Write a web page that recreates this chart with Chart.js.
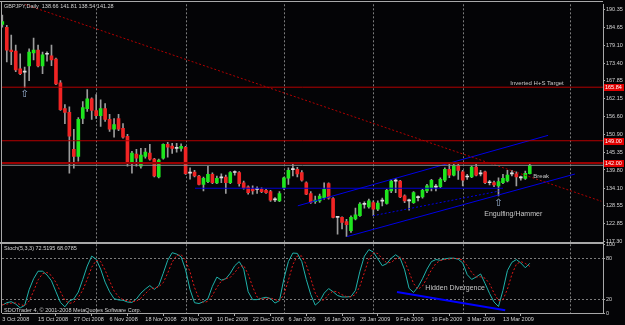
<!DOCTYPE html>
<html>
<head>
<meta charset="utf-8">
<script src="https://cdn.jsdelivr.net/npm/chart.js@4.4.0/dist/chart.umd.min.js"></script>
<style>
  html, body { margin: 0; padding: 0; background: #040406; }
  #wrap { width: 625px; height: 325px; }
</style>
</head>
<body>
<div id="wrap"><canvas id="chart" width="625" height="325"></canvas></div>
<script>
// GBPJPY daily candles, 3 Oct 2008 .. 23 Mar 2009
const barOpen = [185.6,184.7,177.5,177.2,171.6,170.6,172.5,176.6,177.5,172.5,
  176.2,175.7,174.7,167.2,159.1,157.9,146.3,144.1,156.0,159.1,
  162.2,158.5,156.9,159.1,155.7,152.6,156.0,152.9,150.4,141.9,
  144.8,141.0,144.1,145.1,143.2,137.6,143.5,147.9,147.3,146.6,
  146.55,146.95,138.8,139.15,137.9,135.3,136.1,138.4,135.7,137.3,
  137.6,135.8,139.0,139.0,135.8,134.5,133.9,133.7,133.7,133.4,
  133.0,130.5,130.1,134.25,137.2,139.9,140.0,139.0,135.8,132.4,
  129.8,130.1,131.1,135.5,130.8,124.9,124.9,123.6,120.73,124.38,
  125.41,129.0,128.22,129.56,127.5,130.0,129.25,133.22,136.3,136.34,
  131.66,130.1,129.56,131.1,131.35,133.22,134.25,134.4,134.56,136.56,
  139.99,138.21,141.24,139.24,137.6,137.59,140.71,138.6,139.24,135.8,
  135.81,134.78,135.81,136.34,138.6,138.62,137.3,137.18,138.66];
const barHigh = [188.5,185.3,182.2,179.1,176.3,172.2,177.9,181.3,179.1,176.9,
  177.0,179.1,175.0,167.9,160.4,159.7,152.6,156.3,161.3,165.1,
  162.5,163.5,161.9,160.7,157.3,156.0,157.3,154.4,151.0,145.7,
  146.3,146.6,146.6,147.9,143.5,143.2,148.0,148.5,148.2,148.2,
  148.0,147.27,140.5,139.7,138.1,137.6,141.0,138.9,137.9,138.6,
  138.2,139.3,139.5,139.3,136.3,134.8,134.8,134.5,134.2,133.7,
  133.4,131.1,133.0,137.6,140.5,141.7,140.6,139.6,136.1,133.0,
  131.6,132.2,135.8,135.8,131.1,125.1,125.1,124.3,125.41,127.81,
  129.56,129.78,130.63,130.1,130.1,130.94,133.75,136.87,137.18,136.56,
  131.97,130.63,133.0,131.66,133.75,135.31,136.87,135.31,137.37,140.49,
  141.55,141.74,141.74,139.68,138.43,141.02,141.74,139.68,139.46,136.56,
  136.34,137.37,138.43,139.68,139.68,139.24,137.9,139.46,141.81];
const barLow = [184.7,173.8,172.9,170.7,169.8,165.7,167.9,174.4,172.2,170.1,
  174.0,172.6,166.6,158.5,154.4,138.8,140.4,142.6,154.4,158.2,
  155.7,156.0,153.5,155.1,151.9,150.1,152.2,149.8,141.0,138.8,
  141.0,140.4,143.5,142.9,137.6,137.3,143.2,143.8,145.0,145.4,
  145.7,138.4,136.9,137.6,135.1,133.2,135.8,135.5,135.5,135.8,
  132.4,135.5,138.2,134.7,133.8,132.2,132.2,132.4,132.7,132.4,
  129.9,129.8,129.8,133.7,135.3,137.9,137.6,136.3,132.0,129.3,
  129.3,129.6,130.6,130.6,124.7,119.6,121.3,118.9,120.2,124.07,
  125.19,127.81,127.81,125.41,126.97,128.53,129.07,132.68,132.68,131.12,
  129.56,127.19,129.25,130.1,130.94,132.68,133.22,133.22,134.25,136.12,
  137.37,137.9,136.87,134.78,136.87,137.37,137.9,137.9,135.5,135.09,
  134.56,131.66,135.5,136.03,137.9,134.78,136.56,136.87,138.54];
const barClose = [186.5,177.5,177.0,171.3,170.1,170.8,176.9,177.5,172.5,176.0,
  176.4,174.4,166.9,158.8,157.9,150.4,144.1,155.7,159.4,162.2,
  158.5,156.9,159.1,155.7,152.6,154.1,152.6,150.1,141.9,145.1,
  143.5,144.5,145.4,143.2,137.9,142.9,147.9,147.0,146.6,146.8,
  147.27,138.62,139.0,137.9,135.3,137.2,138.4,135.8,137.2,137.4,
  135.8,139.0,139.1,135.5,134.2,132.7,133.2,133.8,133.0,132.7,
  130.3,130.4,132.4,137.37,139.7,140.0,138.6,136.6,132.2,129.6,
  130.3,131.6,133.7,130.9,124.9,125.0,123.3,122.6,124.88,125.72,
  129.07,129.1,130.1,127.5,129.38,130.2,133.43,136.34,136.4,131.35,
  130.1,130.2,132.68,131.2,133.43,134.78,136.56,134.5,136.87,139.99,
  138.21,141.24,139.68,136.56,137.7,140.71,138.21,138.7,135.81,135.9,
  135.09,136.12,137.18,138.21,138.7,137.59,137.4,138.74,141.28];

// Stochastic(5,3,3)
const stochMain = [11.5,15,16.5,13,7.5,11,34,50,61,61,
  55.5,47,31,15.5,9,17.5,20.5,30.5,49,68.5,
  83,78.5,64,45,31,21,19,18.6,16,15.5,
  20.5,29,35,40,34.5,40,58,77,88,86,
  82,63,34,15,13.8,16.5,21,39,52.4,48,
  50,58,69,75,64,31,19.5,19.5,21.5,23,
  21,14.5,18,50,75,87.5,87,75,49,27,
  11.5,17,29,35.6,31,25.5,23.4,23.4,24,33,
  61,83,92.5,89,79,69,72,80,85,80,
  63,36,30,38,50,64,75,78,77,79,
  80,80,78.5,73,56,49,52.5,57,43,28.5,
  16,9.5,33,62,74,78,73,66,72.52];
const stochSignal = [12,13,14.3,14.8,12.3,10.5,17.5,31.7,48.3,57.3,
  59.2,54.5,44.5,31.2,18.5,14,15.7,22.8,33.3,49.3,
  66.8,76.7,75.2,62.5,46.7,32.3,23.7,19.5,17.9,16.7,
  17.3,21.7,28.2,34.7,36.5,38.2,44.2,58.3,74.3,83.7,
  85.3,77,59.7,37.3,20.9,15.1,17.1,25.5,37.5,46.5,
  50.1,52,59,67.3,69.3,56.7,38.2,23.3,20.2,21.3,
  21.8,19.5,17.8,27.5,47.7,70.8,83.2,83.2,70.3,50.3,
  29.2,18.5,19.2,27.2,31.9,30.7,26.6,24.1,23.6,26.8,
  39.3,59,78.8,88.2,86.8,79,73.3,73.7,79,81.7,
  76,59.7,43,34.7,39.3,50.7,63,72.3,76.7,78,
  78.7,79.7,79.5,77.2,69.2,59.3,52.5,52.8,50.8,42.8,
  29.2,18,19.5,34.8,56.3,71.3,75,72.3,68.08];

// axes
const dateTicks = [0,8,16,24,32,40,48,56,64,72,80,88,96,104,112];
const dateLabels = ['3 Oct 2008','15 Oct 2008','27 Oct 2008','6 Nov 2008','18 Nov 2008',
  '28 Nov 2008','10 Dec 2008','22 Dec 2008','6 Jan 2009','16 Jan 2009','28 Jan 2009',
  '9 Feb 2009','19 Feb 2009','3 Mar 2009','13 Mar 2009'];
const monthStarts = [21,41,63,83,103,127];
const priceTicks = [190.35,184.65,179.10,173.40,167.85,162.15,156.60,150.90,145.35,139.80,134.10,128.55,122.85,117.30];
const stochTicks = [0,20,80,100];
const stochLevels = [20,80];

// drawn objects (bar index, price)
const levelPrices = [165.84, 149.00, 142.00];
const resistanceLine = [[0,194.28],[134,129.97]];
const channelTop = [[66.1,128.53],[122.1,150.7]];
const channelBottom = [[77.1,118.85],[128.1,138.53]];
const channelMid = [[82.9,125.41],[111.3,133.22]];
const supportLine = [[43.1,134.06],[112,134.06]];
const divergenceLine = [[88.3,30.6],[112.5,4.1]];
const arrowMarks = [[5,163.5],[111,129.3]];
const notes = [
  {text:'Inverted H+S Target', x:125.6, y:166.95, axis:'y', align:'right', size:6},
  {text:'Break', x:118.8, y:137.95, axis:'y', align:'left', size:6},
  {text:'Engulfing/Hammer', x:114.3, y:126.0, axis:'y', align:'center', size:7},
  {text:'Hidden Divergence', x:101.3, y:36, axis:'y2', align:'center', size:7}
];

const FONT = '"Liberation Sans", Arial, sans-serif';
const textColor = '#d4d4d4';
const axisColor = '#a8a8a8';
const gridColor = 'rgba(175,175,175,0.7)';

function bodyColor(i) {
  const d = barClose[i] - barOpen[i];
  if (d > 0.25) return '#1ee61e';
  if (d < -0.25) return '#f02424';
  return '#e0e0e0';
}

function seg(points, axis, color, width, dash) {
  return {
    type: 'line',
    data: points.map(p => ({x: p[0], y: p[1]})),
    yAxisID: axis,
    borderColor: color,
    borderWidth: width,
    borderDash: dash || [],
    pointRadius: 0,
    fill: false,
    tension: 0,
    order: 0
  };
}

const decor = {
  id: 'decor',
  beforeDatasetsDraw(chart) {
    const {ctx, chartArea: a, scales} = chart;
    ctx.save();
    ctx.strokeStyle = gridColor;
    ctx.lineWidth = 1;
    ctx.setLineDash([2, 2]);
    monthStarts.forEach(m => {
      const px = Math.round(scales.x.getPixelForValue(m)) + 0.5;
      ctx.beginPath(); ctx.moveTo(px, a.top); ctx.lineTo(px, a.bottom); ctx.stroke();
    });
    stochLevels.forEach(v => {
      const py = Math.round(scales.y2.getPixelForValue(v)) + 0.5;
      ctx.beginPath(); ctx.moveTo(a.left, py); ctx.lineTo(a.right, py); ctx.stroke();
    });
    ctx.restore();
  },
  afterDraw(chart) {
    const {ctx, chartArea: a, scales} = chart;
    const x = scales.x, y = scales.y;
    ctx.save();
    // frame and pane separator
    ctx.fillStyle = axisColor;
    ctx.fillRect(0, 1, a.right, 1);
    ctx.fillRect(1, 1, 1, a.bottom - 1);
    ctx.fillRect(0, Math.round(y.bottom), a.right, 2);

    ctx.textBaseline = 'middle';
    ctx.textAlign = 'left';
    ctx.fillStyle = textColor;
    ctx.font = '5.5px ' + FONT;
    const last = barOpen.length - 1;
    ctx.fillText('GBPJPY,Daily  ' + [barOpen[last], barHigh[last], barLow[last], barClose[last]].map(v => v.toFixed(2)).join(' '), 4, 6.5);
    ctx.fillText('Stoch(5,3,3) 72.5195 68.0785', 4, 248.5);
    ctx.fillText('SDOTrader 4, \u00a9 2001-2008 MetaQuotes Software Corp.', 4, 310);

    notes.forEach(n => {
      ctx.font = n.size + 'px ' + FONT;
      ctx.textAlign = n.align;
      ctx.fillStyle = '#c8c8c8';
      ctx.fillText(n.text, x.getPixelForValue(n.x), scales[n.axis].getPixelForValue(n.y));
    });

    ctx.font = '10px "DejaVu Sans"';
    ctx.textAlign = 'center';
    ctx.fillStyle = '#9fb8d8';
    arrowMarks.forEach(p => {
      ctx.fillText('\u21e7', x.getPixelForValue(p[0]), y.getPixelForValue(p[1]));
    });

    // price labels of horizontal lines on the axis
    ctx.font = '5.5px ' + FONT;
    ctx.textAlign = 'left';
    levelPrices.forEach(p => {
      const py = Math.round(y.getPixelForValue(p));
      ctx.fillStyle = '#e00000';
      ctx.fillRect(a.right + 1, py - 3, 20, 7);
      ctx.fillStyle = '#ffffff';
      ctx.fillText(p.toFixed(2), a.right + 2, py + 0.5);
    });
    ctx.restore();
  }
};

const candleBodies = {
  type: 'bar',
  data: barOpen.map((o, i) => ({x: i, y: [o, barClose[i]]})),
  backgroundColor: barOpen.map((o, i) => bodyColor(i)),
  borderWidth: 0,
  barThickness: 3,
  minBarLength: 1,
  grouped: false,
  yAxisID: 'y',
  order: 1
};
const candleWicks = {
  type: 'bar',
  data: barLow.map((l, i) => ({x: i, y: [l, barHigh[i]]})),
  backgroundColor: '#9c9c9c',
  borderWidth: 0,
  barThickness: 1,
  grouped: false,
  yAxisID: 'y',
  order: 2
};

const lastClose = barClose[barClose.length - 1];
const datasets = [
  candleBodies,
  candleWicks,
  seg([[-1, levelPrices[0]], [135, levelPrices[0]]], 'y', '#b40000', 1),
  seg([[-1, levelPrices[1]], [135, levelPrices[1]]], 'y', '#b40000', 1),
  seg([[-1, levelPrices[2]], [135, levelPrices[2]]], 'y', '#9a0000', 2),
  seg([[-1, lastClose], [135, lastClose]], 'y', '#8c8c8c', 1),
  seg(resistanceLine, 'y', '#b00000', 1, [2, 2]),
  seg(channelTop, 'y', '#0000e6', 1),
  seg(channelBottom, 'y', '#0000e6', 1),
  seg(channelMid, 'y', '#0000e6', 1, [2, 2]),
  seg(supportLine, 'y', '#0000d0', 1),
  {
    type: 'line', data: stochSignal.map((v, i) => ({x: i, y: v})), yAxisID: 'y2',
    borderColor: '#e01818', borderWidth: 1, borderDash: [2, 2], pointRadius: 0, tension: 0, order: 0
  },
  {
    type: 'line', data: stochMain.map((v, i) => ({x: i, y: v})), yAxisID: 'y2',
    borderColor: '#20b2aa', borderWidth: 1, pointRadius: 0, tension: 0, order: 0
  },
  seg(divergenceLine, 'y2', '#0000ff', 2)
];

new Chart(document.getElementById('chart').getContext('2d'), {
  type: 'bar',
  data: { datasets: datasets },
  plugins: [decor],
  options: {
    responsive: false,
    animation: false,
    devicePixelRatio: 1,
    layout: { padding: { top: 2, left: 2, right: 0, bottom: 0 } },
    plugins: { legend: { display: false }, tooltip: { enabled: false } },
    scales: {
      x: {
        type: 'linear',
        min: -0.07,
        max: 134.38,
        offset: false,
        afterBuildTicks: s => { s.ticks = dateTicks.map(v => ({value: v})); },
        afterFit: s => { s.height = 12; },
        ticks: {
          autoSkip: false, maxRotation: 0, align: 'start', padding: 0,
          color: textColor, font: { size: 5.5, family: FONT },
          callback: (v, i) => dateLabels[i]
        },
        grid: { drawOnChartArea: false, drawTicks: true, tickLength: 3, color: axisColor },
        border: { display: true, color: axisColor }
      },
      y: {
        type: 'linear',
        position: 'right',
        stack: 'panes',
        stackWeight: 239,
        min: 117.30,
        max: 191.91,
        afterBuildTicks: s => { s.ticks = priceTicks.map(v => ({value: v})); },
        afterFit: s => { s.width = 22; },
        ticks: {
          autoSkip: false, padding: 1, color: textColor, font: { size: 5.5, family: FONT },
          callback: v => v.toFixed(2)
        },
        grid: { drawOnChartArea: false, tickLength: 2, color: axisColor },
        border: { display: true, color: axisColor }
      },
      y2: {
        type: 'linear',
        position: 'right',
        stack: 'panes',
        stackWeight: 72,
        min: 0,
        max: 104.3,
        afterBuildTicks: s => { s.ticks = stochTicks.map(v => ({value: v})); },
        afterFit: s => { s.width = 22; },
        ticks: {
          autoSkip: false, padding: 1, color: textColor, font: { size: 5.5, family: FONT },
          callback: v => String(v)
        },
        grid: { drawOnChartArea: false, tickLength: 2, color: axisColor },
        border: { display: true, color: axisColor }
      }
    }
  }
});
</script>
</body>
</html>
